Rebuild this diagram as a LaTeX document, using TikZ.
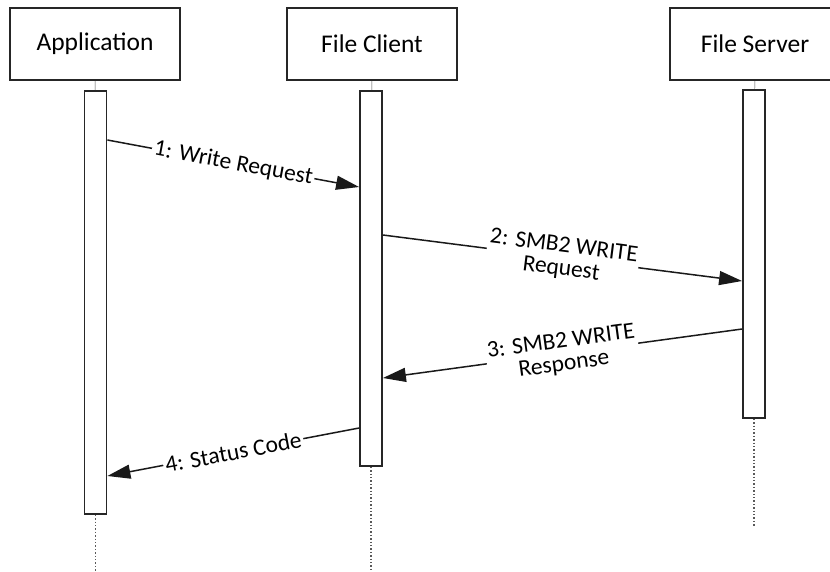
\documentclass[tikz,border=0pt]{standalone}
\usepackage{fontspec}
\setmainfont{Carlito}
\usetikzlibrary{positioning,arrows.meta}

\begin{document}
\begin{tikzpicture}[x=1pt, y=-1pt,
	actor/.style = {shape=rectangle, draw=black!85, line width=1.8pt, minimum width=170pt, minimum height=72pt, font=\fontsize{25.5}{28}\selectfont},
	bar/.style = {shape=rectangle, draw=black!85, line width=1.8pt, fill=white, minimum width=22pt, anchor=north},
	msg/.style = {draw=black!90, line width=1.5pt, -{Triangle[length=23pt,width=14pt]}},
	lbl/.style = {fill=white, sloped, align=center, font=\fontsize{23.5}{23}\selectfont, inner sep=2pt},
	life/.style = {draw=black!65, line width=1.4pt, dotted}]
	\useasboundingbox (0,0) rectangle (830,571);
	% heads
	\node[actor] (app) at (95,44) {Application};
	\node[actor] (cli) at (372,44) {File Client};
	\node[actor] (srv) at (755,44) {File Server};
	% activation bars
	\node[bar, minimum height=423pt] (appbar) at (95.5,90) {};
	\node[bar, minimum height=375pt] (clibar) at (371,90) {};
	\node[bar, minimum height=328pt] (srvbar) at (754,89) {};
	\draw[black!70] (app) -- (appbar);
	\draw[black!70] (cli) -- (clibar);
	\draw[black!70] (srv) -- (srvbar);
	\coordinate (append) at (95.5,571);
	\coordinate (cliend) at (371,571);
	\coordinate (srvend) at (754,527);
	\draw[life] (appbar) -- (append);
	\draw[life] (clibar) -- (cliend);
	\draw[life] (srvbar) -- (srvend);
	% messages
	\coordinate (m1a) at (appbar.east |- 0,140);
	\coordinate (m1b) at (clibar.west |- 0,187);
	\coordinate (m2a) at (clibar.east |- 0,235);
	\coordinate (m2b) at (srvbar.west |- 0,281);
	\coordinate (m3a) at (srvbar.west |- 0,329);
	\coordinate (m3b) at (clibar.east |- 0,378);
	\coordinate (m4a) at (clibar.west |- 0,428);
	\coordinate (m4b) at (appbar.east |- 0,476);
	\draw[msg] (m1a) -- node[lbl] {1: Write Request} (m1b);
	\draw[msg] (m2a) -- node[lbl] {2: SMB2 WRITE\\Request} (m2b);
	\draw[msg] (m3a) -- node[lbl] {3: SMB2 WRITE\\Response} (m3b);
	\draw[msg] (m4a) -- node[lbl] {4: Status Code} (m4b);
\end{tikzpicture}
\end{document}
